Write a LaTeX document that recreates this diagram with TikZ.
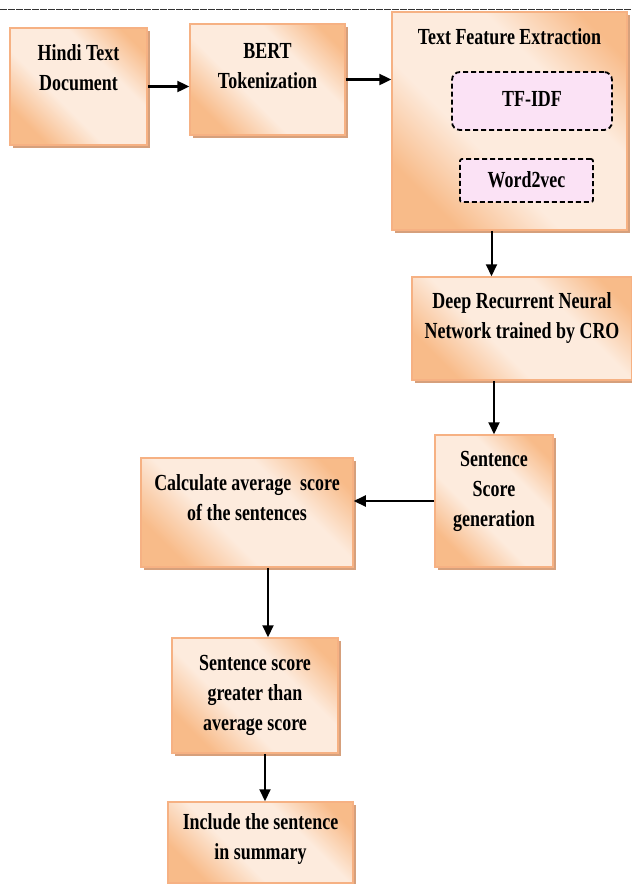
\documentclass[tikz,border=0pt]{standalone}
\usepackage{fontspec}
\setmainfont{Liberation Serif}[FakeStretch=0.78]
\usepackage{xcolor}
\usetikzlibrary{arrows.meta,shadows}

\definecolor{peachdark}{HTML}{F8BB89}
\definecolor{peachlight}{HTML}{FDEBDD}
\definecolor{peachline}{HTML}{F6B183}
\definecolor{peachshadow}{HTML}{D6A07C}
\definecolor{lilac}{HTML}{FBE2F5}
\pgfdeclarehorizontalshading{peach}{100bp}{color(0bp)=(peachdark); color(25bp)=(peachdark);
  color(41bp)=(peachlight); color(63bp)=(peachlight); color(78bp)=(peachdark); color(100bp)=(peachdark)}

\begin{document}
\begin{tikzpicture}[x=1pt, y=-1pt,
  box/.style={draw=peachline, line width=1.5pt, shading=peach, shading angle=45,
    drop shadow={shadow xshift=3pt, shadow yshift=-3pt, fill=peachshadow, opacity=1}},
  algo/.style={draw, line width=1.8pt, dash pattern=on 5pt off 3pt, fill=lilac},
  txt/.style={align=center, font=\bfseries\fontsize{23}{30}\selectfont},
  arr/.style={-{Triangle[length=12pt,width=11pt]}, line width=2pt}]
  \useasboundingbox (0,0) rectangle (632,884);
  \draw[black!80, line width=0.9pt, dash pattern=on 7pt off 1pt] (0,9) -- (632,9);

  % blocks
  \node[box, minimum width=137pt, minimum height=117pt] (hindi) at (78.5,86.5) {};
  \node[txt] (hinditxt) at (78.5,68) {Hindi Text\\Document};
  \node[box, minimum width=155pt, minimum height=111pt] (bert) at (267.5,79.5) {};
  \node[txt] (berttxt) at (267.5,66) {BERT\\Tokenization};
  \node[box, minimum width=235pt, minimum height=218pt] (tfe) at (509.5,121) {};
  \node[txt] (tfetxt) at (509.5,37) {Text Feature Extraction};
  \node[algo, rounded corners=8pt, minimum width=160pt, minimum height=58pt] (tfidf) at (532,101) {};
  \node[txt] (tfidftxt) at (532,99) {TF-IDF};
  \node[algo, rounded corners=2pt, minimum width=133pt, minimum height=43pt] (wvec) at (526.5,180.5) {};
  \node[txt] (wvectxt) at (526.5,180) {Word2vec};
  \node[box, minimum width=220pt, minimum height=103pt] (drnn) at (522,328.5) {};
  \node[txt] (drnntxt) at (522,317.5) {Deep Recurrent Neural\\Network trained by CRO};
  \node[box, minimum width=118pt, minimum height=132pt] (ssg) at (494,501) {};
  \node[txt] (ssgtxt) at (494,491) {Sentence\\Score\\generation};
  \node[box, minimum width=212pt, minimum height=109pt] (calc) at (247,512.5) {};
  \node[txt] (calctxt) at (247,498) {Calculate average\ \ score\\of the sentences};
  \node[box, minimum width=166pt, minimum height=115pt] (greater) at (255,695.5) {};
  \node[txt] (greatertxt) at (255,695) {Sentence score\\greater than\\average score};
  \node[box, minimum width=185pt, minimum height=81pt] (incl) at (260.5,842.5) {};
  \node[txt] (incltxt) at (260.5,839) {Include the sentence\\in summary};

  % connectors
  \draw[arr, line width=2.4pt] (hindi.east) -- (hindi.east -| bert.west);
  \draw[arr, line width=2.4pt] (bert.east) -- (bert.east -| tfe.west);
  \draw[arr] ([xshift=-18pt]tfe.south) -- ([xshift=-18pt]tfe.south |- drnn.north);
  \draw[arr] (drnn.south -| ssg.north) -- (ssg.north);
  \draw[arr] (ssg.west) -- (ssg.west -| calc.east);
  \draw[arr] ([xshift=21pt]calc.south) -- ([xshift=21pt]calc.south |- greater.north);
  \draw[arr] ([xshift=10pt]greater.south) -- ([xshift=10pt]greater.south |- incl.north);
\end{tikzpicture}
\end{document}
